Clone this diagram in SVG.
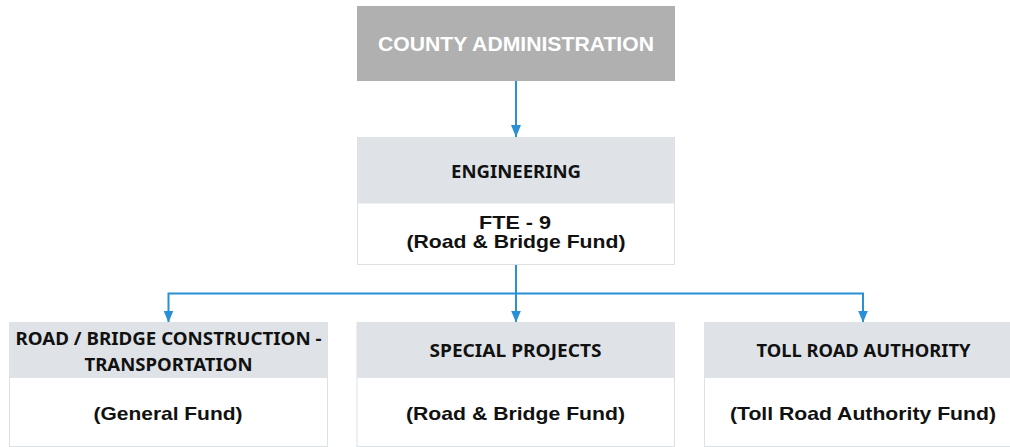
<svg xmlns="http://www.w3.org/2000/svg" width="1010" height="447" viewBox="0 0 1010 447">
  <style>
    .hdr { fill: #dfe3e7; }
    .body { fill: #ffffff; stroke: #dce1e5; stroke-width: 1; }
    .ht { font-family: "Noto Sans", "Open Sans", sans-serif; font-weight: bold; font-size: 18.5px; fill: #111111; text-anchor: middle; }
    .bt { font-family: "Liberation Sans", Arial, sans-serif; font-weight: bold; font-size: 18.5px; fill: #111111; text-anchor: middle; }
    .top { font-family: "Liberation Sans", Arial, sans-serif; font-weight: bold; font-size: 20.5px; fill: #ffffff; text-anchor: middle; }
    .conn { fill: none; stroke: #2990d5; stroke-width: 2; }
  </style>
  <defs>
    <marker id="ah" markerUnits="userSpaceOnUse" markerWidth="12" markerHeight="10" refX="12" refY="5" orient="auto" viewBox="0 0 12 10">
      <path d="M0,0 L12,5 L0,10 z" fill="#2990d5"/>
    </marker>
  </defs>
  <rect x="0" y="0" width="1010" height="447" fill="#ffffff"/>

  <g id="connectors">
    <path class="conn" d="M516 81 V137" marker-end="url(#ah)"/>
    <path class="conn" d="M516 265 V322.5" marker-end="url(#ah)"/>
    <path class="conn" d="M516 293.5 H168.5 V322.5" marker-end="url(#ah)"/>
    <path class="conn" d="M516 293.5 H863 V322.5" marker-end="url(#ah)"/>
  </g>

  <g id="county-administration">
    <rect x="357" y="6" width="318" height="75" fill="#b0b0b0"/>
    <text class="top" x="516" y="51" textLength="276" lengthAdjust="spacingAndGlyphs">COUNTY ADMINISTRATION</text>
  </g>

  <g id="engineering">
    <rect class="body" x="357.5" y="137.5" width="317" height="127"/>
    <rect class="hdr" x="357.5" y="137.5" width="317" height="66"/>
    <text class="ht" x="516" y="178" textLength="130" lengthAdjust="spacingAndGlyphs">ENGINEERING</text>
    <text class="bt" x="515" y="228.5" textLength="72" lengthAdjust="spacingAndGlyphs">FTE - 9</text>
    <text class="bt" x="516" y="247.5" textLength="219" lengthAdjust="spacingAndGlyphs">(Road &amp; Bridge Fund)</text>
  </g>

  <g id="road-bridge">
    <rect class="body" x="9.5" y="322.5" width="318" height="124"/>
    <rect class="hdr" x="9.5" y="322.5" width="318" height="55.5"/>
    <text class="ht" x="168.5" y="344.5" textLength="306" lengthAdjust="spacingAndGlyphs">ROAD / BRIDGE CONSTRUCTION -</text>
    <text class="ht" x="168.5" y="371" textLength="168" lengthAdjust="spacingAndGlyphs">TRANSPORTATION</text>
    <text class="bt" x="168" y="419.5" textLength="149" lengthAdjust="spacingAndGlyphs">(General Fund)</text>
  </g>

  <g id="special-projects">
    <rect class="body" x="357" y="322.5" width="317.5" height="124"/>
    <rect class="hdr" x="357" y="322.5" width="317.5" height="55.5"/>
    <text class="ht" x="515.5" y="357" textLength="172" lengthAdjust="spacingAndGlyphs">SPECIAL PROJECTS</text>
    <text class="bt" x="515.5" y="419.5" textLength="219" lengthAdjust="spacingAndGlyphs">(Road &amp; Bridge Fund)</text>
  </g>

  <g id="toll-road">
    <rect class="body" x="704.5" y="322.5" width="318" height="124"/>
    <rect class="hdr" x="704.5" y="322.5" width="318" height="55.5"/>
    <text class="ht" x="863.5" y="357" textLength="214" lengthAdjust="spacingAndGlyphs">TOLL ROAD AUTHORITY</text>
    <text class="bt" x="863" y="419.5" textLength="266" lengthAdjust="spacingAndGlyphs">(Toll Road Authority Fund)</text>
  </g>
</svg>
